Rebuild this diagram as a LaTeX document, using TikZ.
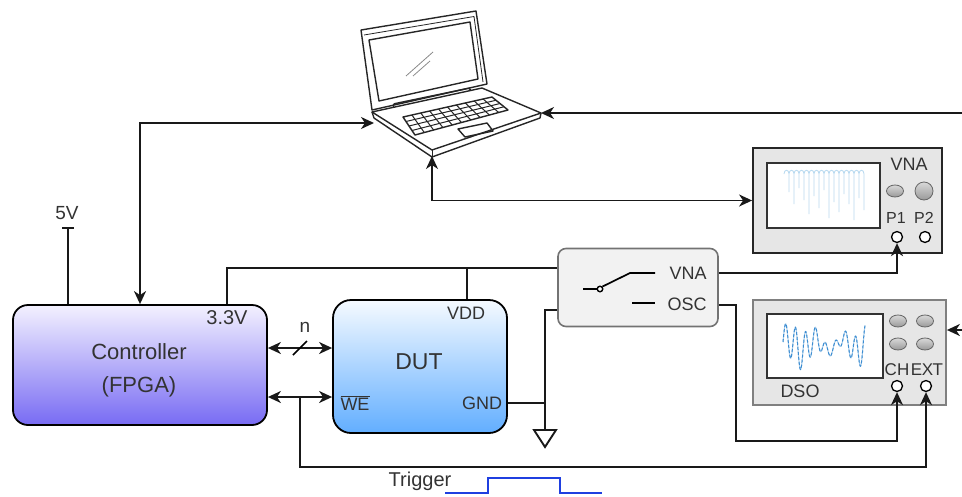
\documentclass[tikz,border=0pt]{standalone}
\usepackage{fontspec}
\setmainfont{Liberation Sans}
\usetikzlibrary{arrows.meta,calc,shapes.geometric}

\definecolor{txt}{HTML}{333333}
\definecolor{ctrltop}{HTML}{F3F1FF}
\definecolor{ctrlbot}{HTML}{786BF3}
\definecolor{duttop}{HTML}{F5FAFF}
\definecolor{dutbot}{HTML}{62AEFF}
\definecolor{panel}{HTML}{E6E6E6}
\definecolor{swfill}{HTML}{F2F2F2}
\definecolor{vnatrace}{HTML}{B9DAF0}
\definecolor{dsotrace}{HTML}{3C8DD2}
\definecolor{trig}{HTML}{1F3FE0}

\newcommand\fsz[1]{\fontsize{#1}{#1}\selectfont}

\tikzset{
  wire/.style={line width=1.9pt, black!90},
  lbl/.style={text=txt, inner sep=0pt},
  ctrlbox/.style={draw, line width=1.8pt, rounded corners=15pt,
    top color=ctrltop, bottom color=ctrlbot,
    minimum width=254pt, minimum height=120pt},
  dutbox/.style={draw, line width=1.8pt, rounded corners=18pt,
    top color=duttop, bottom color=dutbot,
    minimum width=174pt, minimum height=133pt},
  swbox/.style={draw=black!55, line width=1.6pt, rounded corners=8pt,
    fill=swfill, minimum width=160pt, minimum height=78pt},
  instbox/.style={line width=1.8pt, fill=panel},
  screen/.style={draw=black!80, line width=1.4pt, fill=white, inner sep=0pt},
  port/.style={circle, draw, line width=1.3pt, fill=white,
    minimum size=11pt, inner sep=0pt},
  knob/.style={ellipse, draw=black!60, line width=0.8pt, inner sep=0pt,
    top color=black!15, bottom color=black!40,
    minimum width=17pt, minimum height=12pt},
}

\begin{document}
\begin{tikzpicture}[x=1pt, y=-1pt,
    >={Stealth[length=13pt, width=12pt, inset=4pt]}]
\useasboundingbox (0,0) rectangle (962,496);

% ---------------- laptop ----------------
\begin{scope}[line width=1.4pt, line join=round, black!85]
  % lid
  \draw[fill=white] (361,30) -- (476,11) -- (487,84) -- (372,110) -- cycle;
  \draw[line width=0.8pt] (364,35) -- (474,16.5) -- (483,82);
  \draw (369,40) -- (470,22) -- (478,79) -- (379,101) -- cycle;
  \draw[rounded corners=2pt] (393,104) -- (470,88) -- (471,93) -- (394,109) -- cycle;
  % base
  \draw[fill=white] (372,112) -- (482,88) -- (541,113) -- (432,150) -- cycle;
  \draw (372,112) -- (374,118) -- (432,157) -- (540,118) -- (541,113);
  \draw[line width=0.8pt] (432,150) -- (432,157);
  % keyboard
  \coordinate (k0) at (403,117);
  \coordinate (k1) at (492,97);
  \coordinate (k2) at (508,110);
  \coordinate (k3) at (415,135);
  \draw (k0) -- (k1) -- (k2) -- (k3) -- cycle;
  \foreach \i in {1,...,3}
    \draw[line width=1pt] ($(k0)!\i/4!(k3)$) -- ($(k1)!\i/4!(k2)$);
  \foreach \j in {1,...,9}
    \draw[line width=1pt] ($(k0)!\j/10!(k1)$) -- ($(k3)!\j/10!(k2)$);
  % touchpad
  \draw (458,129) -- (487,123) -- (493,131) -- (465,137) -- cycle;
  % screen glare
  \draw[black!45, line width=0.8pt] (406,76) -- (433,52);
  \draw[black!45, line width=0.8pt] (413,76) -- (430,61);
\end{scope}
\coordinate (lapL) at (374,123);
\coordinate (lapR) at (541,113);
\coordinate (lapB) at (432,156);

% ---------------- controller and DUT ----------------
\node[ctrlbox] (ctrl) at (140,365) {};
\node[lbl, font=\fsz{22}, align=center] (ctrltext) at (139,370)
  {Controller\\[11pt](FPGA)};
\node[lbl, font=\fsz{20}] (l33) at (227,318) {3.3V};

\node[dutbox] (dut) at (420,366.5) {};
\node[lbl, font=\fsz{23}] (duttext) at (419,362) {DUT};
\node[lbl, font=\fsz{18}] (lvdd) at (466,313) {VDD};
\node[lbl, font=\fsz{18}] (lgnd) at (482,403) {GND};
\node[lbl, font=\fsz{18}] (lwe) at (355,403) {$\overline{\hbox{WE}}$};

% ---------------- RF switch ----------------
\node[swbox] (sw) at (638,287.5) {};
\begin{scope}[line width=1.7pt]
  \draw (583,289) -- (597.5,289);
  \node[circle, draw, line width=1.4pt, fill=white, minimum size=5.5pt,
        inner sep=0pt] (pivot) at (600,289) {};
  \draw (pivot.north east) -- (630,273) -- (655,273);
  \draw (632,303) -- (655,303);
\end{scope}
\node[lbl, font=\fsz{18}] (swvna) at (688,273) {VNA};
\node[lbl, font=\fsz{18}] (swosc) at (687,304) {OSC};

% ---------------- VNA ----------------
\node[instbox, draw=black!85, minimum width=189pt, minimum height=105pt,
      inner sep=0pt] (vna) at (847.5,200.5) {};
\node[screen, minimum width=113pt, minimum height=65pt] (vnascr) at (823.5,195.5) {};
\begin{scope}[vnatrace, line width=0.8pt]
  \draw (784,174)
    \foreach \d in {18,30,14,26,40,22,34,16,44,28,38,20,30,46,24,36}
      { .. controls +(0,-5) and +(0,-5) .. ++(5,0) -- ++(0,\d) -- ++(0,-\d) };
\end{scope}
\node[lbl, font=\fsz{18}] (lvna) at (909,164) {VNA};
\node[knob] (vk1) at (895,191) {};
\node[circle, draw=black!60, line width=0.8pt, inner sep=0pt,
      top color=black!15, bottom color=black!40, minimum size=18pt] (vk2) at (924,191) {};
\node[lbl, font=\fsz{16}] (lp1) at (896,218) {P1};
\node[lbl, font=\fsz{16}] (lp2) at (924,218) {P2};
\node[port] (p1) at (897,237) {};
\node[port] (p2) at (925,237) {};

% ---------------- DSO ----------------
\node[instbox, draw=black!50, minimum width=193pt, minimum height=105pt,
      inner sep=0pt] (dso) at (849.5,352.5) {};
\node[screen, minimum width=116pt, minimum height=64pt] (dsoscr) at (825,346) {};
\draw[dsotrace!45, line width=1pt, smooth, samples=300, domain=0:82]
  plot ({783+\x}, {345-(12+7*sin(\x*5+20))*sin(\x*36)-6*sin(\x*13+30)});
\draw[dsotrace, line width=1pt, densely dashed, smooth, samples=300, domain=0:82]
  plot ({783+\x}, {345-(12+7*sin(\x*5+20))*sin(\x*36)-6*sin(\x*13+30)});
\node[knob] (dk1) at (898,321) {};
\node[knob] (dk2) at (925,321) {};
\node[knob] (dk3) at (898,344) {};
\node[knob] (dk4) at (925,344) {};
\node[lbl, font=\fsz{18}] (ldso) at (800,391) {DSO};
\node[lbl, font=\fsz{17}] (lch) at (897,370) {CH};
\node[lbl, font=\fsz{17}, inner xsep=0pt] (lext) at (927,370) {E\kern-0.5pt X\kern-0.5pt T};
\node[port] (ch) at (897,386) {};
\node[port] (ext) at (926,386) {};

% ---------------- supply and control wiring ----------------
\coordinate (v5) at (68,228);
\draw[wire] (ctrl.north -| v5) -- (v5);
\draw[wire] (v5) ++(-6,0) -- ++(12,0);
\node[lbl, font=\fsz{19}] (l5v) at (67,213) {5V};

\draw[wire] ([xshift=87pt]ctrl.north) |- ([yshift=19.5pt]sw.west);
\draw[wire] ([xshift=47pt]dut.north) -- ++(0,-32);

\draw[wire, <->] ([yshift=17pt]ctrl.east) -- ([yshift=17pt]ctrl.east -| dut.west);
\draw[line width=1.5pt] (293,355) -- (307,341);
\node[lbl, font=\fsz{19}] (ln) at (305,327) {n};

\draw[wire, <->] ([yshift=-32pt]ctrl.east) -- ([yshift=-32pt]ctrl.east -| dut.west);
\coordinate (trg) at (300,397);

% ground return
\coordinate (gnd) at (545,430);
\draw[wire] ([yshift=-22.5pt]sw.west) -| (gnd);
\draw[wire] ([yshift=-36.5pt]dut.east) -- ([yshift=-36.5pt]dut.east -| gnd);
\draw[wire, fill=white, line join=miter] (gnd) ++(-11,0) -- ++(22,0) -- ++(-11,17) -- cycle;

% switch outputs
\draw[wire, ->] ([yshift=14.5pt]sw.east) -| (p1.south);
\draw[wire, ->] ([yshift=-17.5pt]sw.east) -- ++(17,0) -- ++(0,136) -| (ch.south);

% trigger line
\draw[wire, ->] (trg) -- ++(0,70) -| (ext.south);
\node[lbl, font=\fsz{20}] (ltrig) at (420,481) {Trigger};
\draw[trig, line width=1.6pt] (445,493) -- (488,493) -- (488,478)
  -- (560,478) -- (560,493) -- (602,493);

% laptop links
\draw[wire, <->] (ctrl.north) |- (lapL);
\coordinate (eR1) at (962,113);
\draw[wire, ->] (eR1) -- (lapR);
\draw[wire, <->] (vna.west) -| (lapB);
\coordinate (eR2) at (962,330);
\draw[wire, ->] (eR2) -- (dso.east |- eR2);

\end{tikzpicture}
\end{document}
